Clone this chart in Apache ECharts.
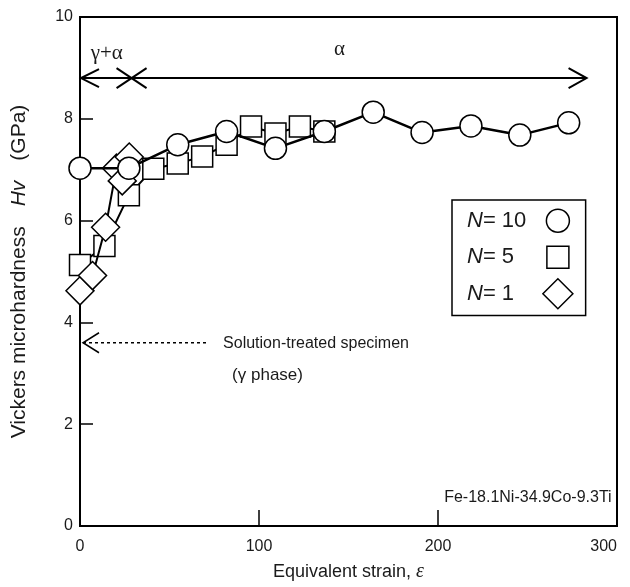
<!DOCTYPE html>
<html>
<head>
<meta charset="utf-8">
<script src="https://cdn.jsdelivr.net/npm/echarts@6/dist/echarts.min.js"></script>
<style>
html,body{margin:0;padding:0;background:#fff;}
#chart{width:630px;height:587px;}
</style>
</head>
<body>
<div id="chart"></div>
<script>
// ---- data ----
const strainN10 = [0, 27.3, 54.6, 81.9, 109.2, 136.5, 163.8, 191.1, 218.4, 245.7, 273];
const hvN10     = [7.03, 7.03, 7.49, 7.75, 7.42, 7.75, 8.13, 7.73, 7.86, 7.68, 7.92];
const strainN5  = [0, 13.65, 27.3, 40.95, 54.6, 68.25, 81.9, 95.55, 109.2, 122.85, 136.5];
const hvN5      = [5.13, 5.5, 6.5, 7.02, 7.12, 7.26, 7.49, 7.85, 7.71, 7.85, 7.75];
const strainN1  = [0, 7.0, 14.3, 20.4, 23.6, 27.5];
const hvN1      = [4.62, 4.92, 5.87, 7.03, 6.78, 7.25];
const xTicks = [0, 100, 200, 300];
const yTicks = [0, 2, 4, 6, 8, 10];
const seriesNames = ['N=10', 'N=5', 'N=1'];
const legendLabels = ['10', '5', '1'];

const pair = (xs, ys) => xs.map((x, i) => [x, ys[i]]);
const FONT = 'Liberation Sans';
const chart = echarts.init(document.getElementById('chart'), null, {renderer: 'canvas'});

const markerStyle = {color: '#fff', borderColor: '#000', borderWidth: 1.5};
// legend icons (bounding corners fixed by the leading moveTo points so sizes differ)
const iconCircle = 'path://M0 0M30 30M26.5 15A11.5 11.5 0 1 1 3.5 15A11.5 11.5 0 1 1 26.5 15Z';
const iconSquare = 'path://M0 0M30 30M4 4L26 4L26 26L4 26Z';
const iconDiamond = 'path://M15 0L30 15L15 30L0 15Z';

chart.setOption({
  animation: false,
  backgroundColor: '#fff',
  grid: {left: 80, right: 13, top: 17, bottom: 61, show: true, borderColor: '#000', borderWidth: 2, containLabel: false},
  xAxis: {
    type: 'value', min: xTicks[0], max: xTicks[xTicks.length - 1], interval: 100,
    name: '{n|Equivalent strain, }{e|ε}',
    nameLocation: 'middle', nameGap: 36,
    nameTextStyle: {rich: {
      n: {fontFamily: FONT, fontSize: 18, color: '#1a1a1a'},
      e: {fontFamily: 'Liberation Serif', fontStyle: 'italic', fontSize: 20, color: '#1a1a1a'}
    }},
    axisLine: {lineStyle: {color: '#000', width: 2}},
    axisTick: {inside: true, length: 16, lineStyle: {color: '#000', width: 1.5}},
    axisLabel: {fontFamily: FONT, fontSize: 16, color: '#1a1a1a', margin: 13, alignMaxLabel: 'right'},
    splitLine: {show: false}
  },
  yAxis: {
    type: 'value', min: yTicks[0], max: yTicks[yTicks.length - 1], interval: 2,
    name: '{n|Vickers microhardness}{i|Hv}{n|(GPa)}',
    nameLocation: 'middle', nameGap: 50, nameRotate: 90,
    nameTextStyle: {rich: {
      n: {fontFamily: FONT, fontSize: 21, color: '#1a1a1a'},
      i: {fontFamily: FONT, fontStyle: 'italic', fontSize: 21, color: '#1a1a1a', padding: [0, 20, 0, 20]}
    }},
    axisLine: {lineStyle: {color: '#000', width: 2}},
    axisTick: {inside: true, length: 13, lineStyle: {color: '#000', width: 1.5}},
    axisLabel: {fontFamily: FONT, fontSize: 16, color: '#1a1a1a', margin: 7},
    splitLine: {show: false}
  },
  legend: {
    orient: 'vertical', left: 452, top: 200, align: 'right',
    padding: [5, 12, 6, 15], itemGap: 5,
    backgroundColor: '#fff', borderColor: '#000', borderWidth: 1.5,
    itemWidth: 30, itemHeight: 30,
    data: [
      {name: seriesNames[0], icon: iconCircle},
      {name: seriesNames[1], icon: iconSquare},
      {name: seriesNames[2], icon: iconDiamond}
    ],
    itemStyle: {color: '#fff', borderColor: '#000', borderWidth: 1.5},
    lineStyle: {opacity: 0},
    formatter: function (name) {
      const i = seriesNames.indexOf(name);
      return '{i|N}{t|= ' + legendLabels[i] + '}';
    },
    textStyle: {rich: {
      i: {fontFamily: FONT, fontStyle: 'italic', fontSize: 22, color: '#1a1a1a', align: 'left'},
      t: {fontFamily: FONT, fontSize: 22, color: '#1a1a1a', width: 55, align: 'left'}
    }}
  },
  series: [
    {name: seriesNames[1], type: 'line', data: pair(strainN5, hvN5), symbol: 'rect', symbolSize: 21,
     lineStyle: {color: '#000', width: 2}, itemStyle: markerStyle, z: 2},
    {name: seriesNames[2], type: 'line', data: pair(strainN1, hvN1), symbol: 'diamond', symbolSize: 28,
     lineStyle: {color: '#000', width: 2}, itemStyle: markerStyle, z: 3},
    {name: seriesNames[0], type: 'line', data: pair(strainN10, hvN10), symbol: 'circle', symbolSize: 22,
     lineStyle: {color: '#000', width: 2.5}, itemStyle: markerStyle, z: 4}
  ]
});

// ---- annotations, anchored in data coordinates ----
const P = (x, y) => chart.convertToPixel({gridIndex: 0}, [x, y]);
const arrowY = 8.8;
const a0 = P(0, arrowY), a1 = P(283, arrowY), cx = P(28.8, arrowY);
const d0 = P(0, 3.6), d1 = P(71, 3.6);
const lineS = {stroke: '#000', lineWidth: 2};
const g = [];
g.push({type: 'line', shape: {x1: a0[0] + 1, y1: a0[1], x2: a1[0], y2: a1[1]}, style: lineS, z: 10});
g.push({type: 'polyline', shape: {points: [[a0[0] + 19, a0[1] - 9], [a0[0] + 1, a0[1]], [a0[0] + 19, a0[1] + 9]]}, style: Object.assign({fill: null}, lineS), z: 10});
g.push({type: 'polyline', shape: {points: [[a1[0] - 18, a1[1] - 10], [a1[0], a1[1]], [a1[0] - 18, a1[1] + 10]]}, style: Object.assign({fill: null}, lineS), z: 10});
g.push({type: 'line', shape: {x1: cx[0] - 15, y1: cx[1] - 10, x2: cx[0] + 15, y2: cx[1] + 10}, style: lineS, z: 10});
g.push({type: 'line', shape: {x1: cx[0] - 15, y1: cx[1] + 10, x2: cx[0] + 15, y2: cx[1] - 10}, style: lineS, z: 10});
g.push({type: 'text', x: (a0[0] + cx[0]) / 2 + 1, y: a0[1] - 25, style: {text: 'γ+α', font: '21px "Liberation Serif"', fill: '#1a1a1a', align: 'center', verticalAlign: 'middle'}, z: 10});
const al = P(141, arrowY);
g.push({type: 'text', x: al[0] + 7, y: al[1] - 29, style: {text: 'α', font: '21px "Liberation Serif"', fill: '#1a1a1a', align: 'center', verticalAlign: 'middle'}, z: 10});
// dotted arrow
g.push({type: 'line', shape: {x1: d0[0] + 3, y1: d0[1], x2: d1[0], y2: d1[1]}, style: {stroke: '#000', lineWidth: 1.5, lineDash: [3, 3]}, z: 10});
g.push({type: 'polyline', shape: {points: [[d0[0] + 19, d0[1] - 10], [d0[0] + 3, d0[1]], [d0[0] + 19, d0[1] + 10]]}, style: {stroke: '#000', lineWidth: 1.5, fill: null}, z: 10});
g.push({type: 'text', x: d1[0] + 16, y: d1[1] + 1, style: {text: 'Solution-treated specimen', font: '16px "Liberation Sans"', fill: '#1a1a1a', align: 'left', verticalAlign: 'middle'}, z: 10});
g.push({type: 'text', x: d1[0] + 25, y: d1[1] + 33, style: {text: '(γ phase)', font: '17px "Liberation Sans"', fill: '#1a1a1a', align: 'left', verticalAlign: 'middle'}, z: 10});
const fe = P(297, 0.55);
g.push({type: 'text', x: fe[0], y: fe[1], style: {text: 'Fe-18.1Ni-34.9Co-9.3Ti', font: '16px "Liberation Sans"', fill: '#1a1a1a', align: 'right', verticalAlign: 'middle'}, z: 10});
chart.setOption({graphic: g});
</script>
</body>
</html>
